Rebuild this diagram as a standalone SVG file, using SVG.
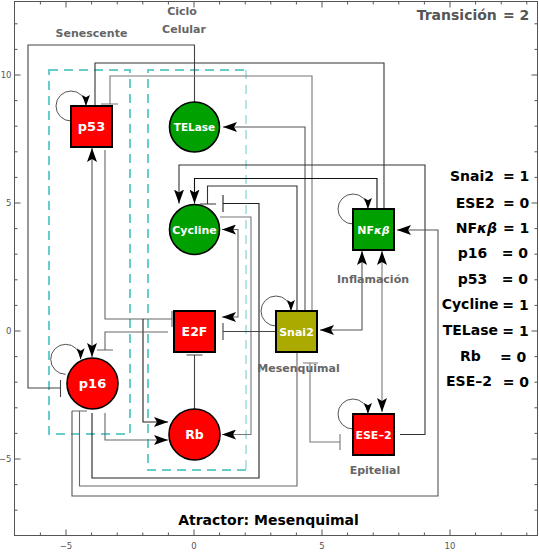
<svg xmlns="http://www.w3.org/2000/svg" width="539" height="552" viewBox="0 0 539 552">
<style>
.ax{fill:none;stroke:#555;stroke-width:1}
.tk{font-family:"DejaVu Sans",sans-serif;font-size:8.5px;fill:#555}
.box{fill:none;stroke:#66CCCC;stroke-width:2;stroke-dasharray:9,6}
.ln{fill:none;stroke-width:1.1}
.ar{marker-end:url(#ah)}
.ar2{marker-start:url(#ah);marker-end:url(#ah)}
.loop{fill:none;stroke:#555;stroke-width:1;marker-end:url(#ahs)}
.sq{stroke:#000;stroke-width:2}
.ci{stroke:#000;stroke-width:1.6}
.red{fill:#FF0000}
.grn{fill:#00A000}
.olv{fill:#AAAA00}
.nl{font-family:"DejaVu Sans",sans-serif;font-weight:bold;fill:#fff;text-anchor:middle}
.gl{font-family:"DejaVu Sans",sans-serif;font-weight:bold;font-size:11px;fill:#666;text-anchor:middle}
.lg{font-family:"DejaVu Sans",sans-serif;font-weight:bold;font-size:14px;fill:#000}
</style>
<defs>
<marker id="ah" viewBox="0 0 14 10" refX="14" refY="5" markerWidth="14" markerHeight="10" markerUnits="userSpaceOnUse" orient="auto-start-reverse">
<path d="M0,0 L14,5 L0,10 L3,5 z" fill="#000"/>
</marker>
<marker id="ahs" viewBox="0 0 14 10" refX="14" refY="5" markerWidth="11" markerHeight="8" markerUnits="userSpaceOnUse" orient="auto">
<path d="M0,0 L14,5 L0,10 L3,5 z" fill="#000"/>
</marker>
</defs>
<rect width="539" height="552" fill="#fff"/>
<g id="axes">
<rect class="ax" x="14.5" y="1.5" width="523" height="534"/>
<path class="ax" d="M40.4,535.5v-3M91.6,535.5v-3M117.2,535.5v-3M142.8,535.5v-3M168.4,535.5v-3M219.6,535.5v-3M245.2,535.5v-3M270.8,535.5v-3M296.4,535.5v-3M347.6,535.5v-3M373.2,535.5v-3M398.8,535.5v-3M424.4,535.5v-3M475.6,535.5v-3M501.2,535.5v-3M526.8,535.5v-3M66,535.5v-6M194,535.5v-6M322,535.5v-6M450,535.5v-6
M40.4,1.5v3M91.6,1.5v3M117.2,1.5v3M142.8,1.5v3M168.4,1.5v3M219.6,1.5v3M245.2,1.5v3M270.8,1.5v3M296.4,1.5v3M347.6,1.5v3M373.2,1.5v3M398.8,1.5v3M424.4,1.5v3M475.6,1.5v3M501.2,1.5v3M526.8,1.5v3M66,1.5v6M194,1.5v6M322,1.5v6M450,1.5v6
M14.5,23.8h3M14.5,49.4h3M14.5,100.6h3M14.5,126.2h3M14.5,151.8h3M14.5,177.4h3M14.5,228.6h3M14.5,254.2h3M14.5,279.8h3M14.5,305.4h3M14.5,356.6h3M14.5,382.2h3M14.5,407.8h3M14.5,433.4h3M14.5,484.6h3M14.5,510.2h3M14.5,75h6M14.5,203h6M14.5,331h6M14.5,459h6
M537.5,23.8h-3M537.5,49.4h-3M537.5,100.6h-3M537.5,126.2h-3M537.5,151.8h-3M537.5,177.4h-3M537.5,228.6h-3M537.5,254.2h-3M537.5,279.8h-3M537.5,305.4h-3M537.5,356.6h-3M537.5,382.2h-3M537.5,407.8h-3M537.5,433.4h-3M537.5,484.6h-3M537.5,510.2h-3M537.5,75h-6M537.5,203h-6M537.5,331h-6M537.5,459h-6"/>
<text class="tk" x="11.5" y="78" text-anchor="end">10</text>
<text class="tk" x="11.5" y="206" text-anchor="end">5</text>
<text class="tk" x="11.5" y="334" text-anchor="end">0</text>
<text class="tk" x="11.5" y="462" text-anchor="end">−5</text>
<text class="tk" x="66" y="549" text-anchor="middle">−5</text>
<text class="tk" x="194" y="549" text-anchor="middle">0</text>
<text class="tk" x="322" y="549" text-anchor="middle">5</text>
<text class="tk" x="450" y="549" text-anchor="middle">10</text>
</g>
<g id="regions">
<rect class="box" x="49" y="70" width="81" height="364"/>
<path class="box" d="M246,470 H148 V70 H246"/>
<path class="box" style="stroke-width:1" d="M246,70 V470"/>
</g>
<g id="connectors">
<path class="ln" stroke="#444" d="M194.5,102 V45 H28 V388 H60.5 M60.5,380 V397"/>
<path class="ln" stroke="#333" d="M95,106 V63 H384 V209"/>
<path class="ln" stroke="#777" d="M312,311 V76 H110 V104 M101,104 H118"/>
<path class="ln ar" stroke="#555" d="M305,311 V127 H223"/>
<path class="ln ar" stroke="#333" d="M400,434.5 H425 V165 H179 V203.5"/>
<path class="ln ar" stroke="#111" d="M377,209 V178.5 H194.5 V203.5"/>
<path class="ln" stroke="#333" d="M297,311 V186 H207.5 V204 M200,204 H216"/>
<path class="ln" stroke="#222" d="M92,413 V478 H259 V203.5 H223 M223,195 V212"/>
<path class="ln ar" stroke="#777" d="M220,217 H251 V434.5 H222"/>
<path class="ln ar2" stroke="#666" d="M222,229.5 H238 V317 H222"/>
<path class="ln ar2" stroke="#555" d="M92,148 V357"/>
<path class="ln" stroke="#666" d="M105,150 V319 H172 M172,311 V327"/>
<path class="ln ar" stroke="#222" d="M143,319 V422 H168"/>
<path class="ln" stroke="#666" d="M168,332 H105 V350 M97,350 H113"/>
<path class="ln" stroke="#444" d="M194.5,409 V355 M186.5,355 H202.5"/>
<path class="ln ar" stroke="#666" d="M105,413 V440 H168"/>
<path class="ln" stroke="#666" d="M297,352 V486 H79.5 V411 M72,411 H87"/>
<path class="ln ar" stroke="#555" d="M72,411 V496 H438 V230 H397"/>
<path class="ln ar2" stroke="#555" d="M320,330 H362 V251"/>
<path class="ln ar2" stroke="#777" d="M382,251 V412"/>
<path class="ln" stroke="#777" d="M303,363 H318 M310,363 V442 H340 M340,434 V450"/>
<path class="ln" stroke="#444" d="M276,331.5 H223 M223,323 V340"/>
<path class="loop" d="M71,121 A15,15 0 1 1 86,106"/>
<path class="loop" d="M65.7,374.3 A15,15 0 1 1 80.7,359.3"/>
<path class="loop" d="M276,326 A15,15 0 1 1 291,311"/>
<path class="loop" d="M353,224 A15,15 0 1 1 368,209"/>
<path class="loop" d="M353,429 A15,15 0 1 1 368,414"/>
</g>
<g id="p53"><rect class="sq red" x="71" y="106" width="41" height="41"/><text class="nl" x="91.5" y="131.2" font-size="13">p53</text></g>
<g id="TELase"><circle class="ci grn" cx="194.5" cy="127" r="25"/><text class="nl" x="194.5" y="130.8" font-size="10.5">TELase</text></g>
<g id="Cycline"><circle class="ci grn" cx="194.5" cy="229.5" r="25"/><text class="nl" x="194.5" y="233.5" font-size="11">Cycline</text></g>
<g id="E2F"><rect class="sq red" x="174" y="311" width="41" height="41"/><text class="nl" x="194.5" y="336" font-size="12.5">E2F</text></g>
<g id="Snai2"><rect class="sq olv" x="276" y="311" width="41" height="41"/><text class="nl" x="296.5" y="335.5" font-size="11">Snai2</text></g>
<g id="NFkB"><rect class="sq grn" x="353" y="209" width="41" height="41"/><text class="nl" x="373.5" y="233.5" font-size="11">NF<tspan font-style="italic">κβ</tspan></text></g>
<g id="p16"><circle class="ci red" cx="92.5" cy="383.5" r="25.5"/><text class="nl" x="92.5" y="388.2" font-size="13">p16</text></g>
<g id="Rb"><circle class="ci red" cx="194.5" cy="434.5" r="25.5"/><text class="nl" x="194.5" y="439" font-size="12.5">Rb</text></g>
<g id="ESE2"><rect class="sq red" x="353" y="414" width="41" height="41"/><text class="nl" x="373.5" y="438.5" font-size="11">ESE–2</text></g>
<g id="labels">
<text class="gl" x="91.5" y="36.5">Senescente</text>
<text class="gl" x="182" y="15">Ciclo</text>
<text class="gl" x="184" y="33">Celular</text>
<text class="gl" x="373" y="282.5">Inflamación</text>
<text class="gl" x="298.5" y="372">Mesenquimal</text>
<text class="gl" x="375" y="474">Epitelial</text>
<text class="lg" x="416.7" y="20" style="fill:#555">Transición</text>
<text class="lg" x="503" y="20" style="fill:#555">= 2</text>
<text class="lg" x="268.5" y="525" text-anchor="middle">Atractor: Mesenquimal</text>
</g>
<g id="legend">
<text class="lg" x="450" y="181">Snai2</text><text class="lg" x="503" y="181">= 1</text>
<text class="lg" x="455.7" y="207.7">ESE2</text><text class="lg" x="503" y="207.7">= 0</text>
<text class="lg" x="455.7" y="232.7">NF<tspan font-style="italic">κβ</tspan></text><text class="lg" x="503" y="233">= 1</text>
<text class="lg" x="457.7" y="258.3">p16</text><text class="lg" x="501.7" y="258.3">= 0</text>
<text class="lg" x="457.7" y="284.3">p53</text><text class="lg" x="501.7" y="284.3">= 0</text>
<text class="lg" x="441.7" y="309.3">Cycline</text><text class="lg" x="502.3" y="309.8">= 1</text>
<text class="lg" x="442.7" y="335">TELase</text><text class="lg" x="502.3" y="335.5">= 1</text>
<text class="lg" x="460" y="360.5">Rb</text><text class="lg" x="500" y="361.5">= 0</text>
<text class="lg" x="446" y="386">ESE–2</text><text class="lg" x="502.7" y="386.5">= 0</text>
</g>
</svg>
